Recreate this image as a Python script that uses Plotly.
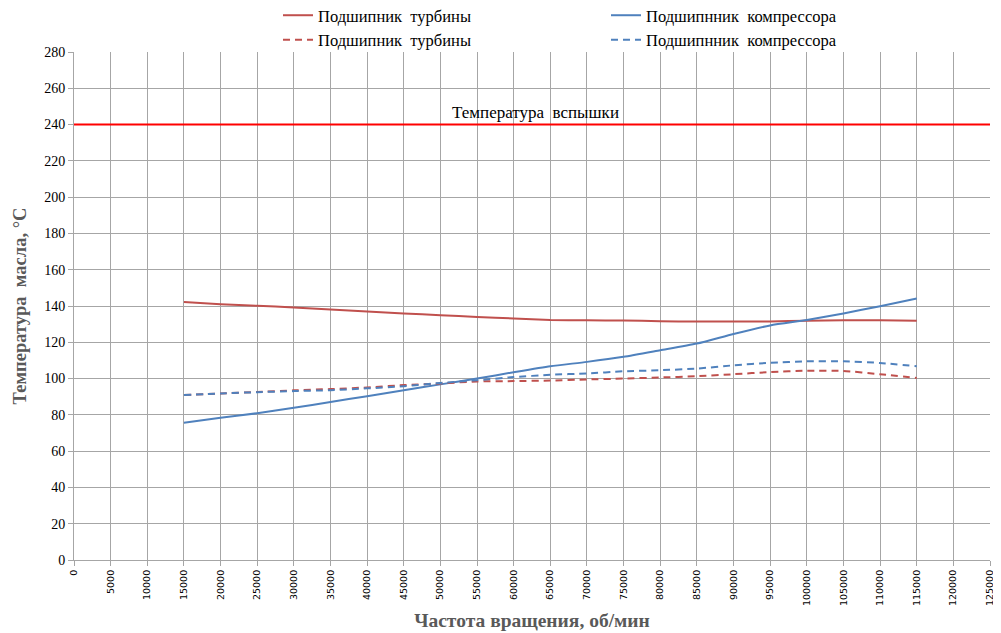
import plotly.graph_objects as go

rpm = [15000, 20000, 25000, 30000, 35000, 40000, 45000, 50000, 55000, 60000, 65000,
       70000, 75000, 80000, 85000, 90000, 95000, 100000, 105000, 110000, 115000]

turbine_solid = [142.2, 141.0, 140.1, 139.2, 138.1, 136.9, 135.9, 134.9, 134.0, 133.1, 132.3,
                 132.1, 132.0, 131.6, 131.4, 131.4, 131.5, 131.9, 132.2, 132.1, 131.9]
compressor_solid = [75.6, 78.4, 80.9, 83.9, 87.1, 90.3, 93.6, 96.8, 100.0, 103.5, 106.8,
                    109.2, 112.0, 115.6, 119.3, 124.6, 129.3, 132.3, 135.9, 139.9, 144.1]
turbine_dash = [90.9, 91.8, 92.6, 93.5, 94.2, 95.1, 96.4, 97.3, 98.4, 98.6, 98.9,
                99.5, 100.0, 100.6, 101.3, 102.4, 103.6, 104.3, 104.2, 102.4, 100.3]
compressor_dash = [90.9, 91.8, 92.5, 93.1, 93.6, 94.6, 95.8, 97.6, 99.1, 100.8, 102.1,
                   102.8, 104.0, 104.6, 105.5, 107.3, 108.7, 109.5, 109.5, 108.6, 106.8]

flash_x = [0, 125000]
flash_y = [240, 240]
flash_label = "Температура  вспышки"

name_turbine = "Подшипник  турбины"
name_compressor = "Подшипнник  компрессора"

RED = "#C0504D"
BLUE = "#4F81BD"
SERIF = "Liberation Serif"

fig = go.Figure()
fig.add_trace(go.Scatter(x=rpm, y=turbine_solid, name=name_turbine, mode="lines",
                         line=dict(color=RED, width=2, shape="spline", smoothing=0.6)))
fig.add_trace(go.Scatter(x=rpm, y=compressor_solid, name=name_compressor, mode="lines",
                         line=dict(color=BLUE, width=2, shape="spline", smoothing=0.6)))
fig.add_trace(go.Scatter(x=rpm, y=turbine_dash, name=name_turbine, mode="lines",
                         line=dict(color=RED, width=2, dash="7px,5px", shape="spline", smoothing=0.6)))
fig.add_trace(go.Scatter(x=rpm, y=compressor_dash, name=name_compressor, mode="lines",
                         line=dict(color=BLUE, width=2, dash="7px,5px", shape="spline", smoothing=0.6)))
fig.add_trace(go.Scatter(x=flash_x, y=flash_y, mode="lines", showlegend=False,
                         line=dict(color="#FF0000", width=2)))

fig.add_annotation(x=63000, y=240, text=flash_label, showarrow=False, yanchor="bottom",
                   yshift=1, font=dict(family=SERIF, size=17, color="#000000"))

fig.update_layout(
    width=993, height=625,
    margin=dict(l=66, r=11, t=44, b=73, autoexpand=False),
    paper_bgcolor="white", plot_bgcolor="white",
    font=dict(family=SERIF, color="#000000"),
    legend=dict(orientation="h", x=0.2227, xanchor="left", y=1.1063, yanchor="top",
                entrywidth=283, entrywidthmode="pixels",
                font=dict(family=SERIF, size=16.5, color="#000000"),
                itemwidth=30, tracegroupgap=0, bgcolor="rgba(0,0,0,0)"),
    showlegend=True,
)
fig.update_xaxes(range=[0, 125000], dtick=5000, tick0=0, tickangle=-90,
                 tickformat="d", automargin=False,
                 showgrid=True, gridcolor="#A6A6A6", gridwidth=1,
                 showline=True, linecolor="#A6A6A6", linewidth=1,
                 ticks="outside", ticklen=5, tickcolor="#A6A6A6",
                 tickfont=dict(family="DejaVu Sans", size=9.5, color="#000000"),
                 zeroline=False,
                 title=dict(text="<b>Частота вращения, об/мин</b>", standoff=8,
                            font=dict(family=SERIF, size=19.5, color="#595959")))
fig.update_yaxes(range=[0, 280], dtick=20, tick0=0, automargin=False,
                 showgrid=True, gridcolor="#A6A6A6", gridwidth=1,
                 showline=True, linecolor="#A6A6A6", linewidth=1,
                 ticks="outside", ticklen=5, tickcolor="#A6A6A6",
                 tickfont=dict(family=SERIF, size=14, color="#000000"),
                 zeroline=False,
                 title=dict(text="<b>Температура  масла, °С</b>", standoff=12,
                            font=dict(family=SERIF, size=18.5, color="#595959")))

fig.write_html("out.html")
